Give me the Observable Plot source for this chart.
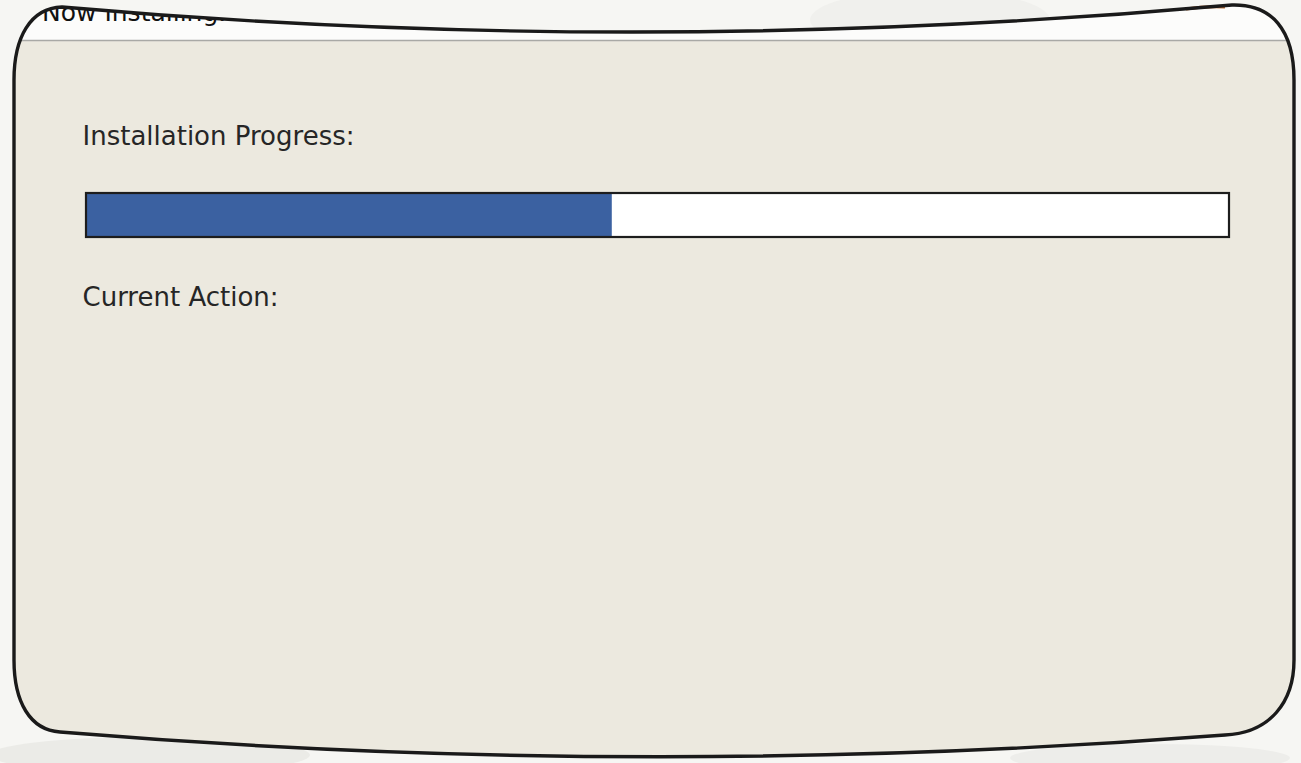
<!DOCTYPE html>
<html>
<head>
<meta charset="utf-8">
<script src="https://cdn.jsdelivr.net/npm/d3@7"></script>
<script src="https://cdn.jsdelivr.net/npm/@observablehq/plot@0.6"></script>
<style>
  html, body { margin: 0; padding: 0; background: #f6f6f3; overflow: hidden; }
  #chart svg { display: block; }
</style>
</head>
<body>
<div id="chart"></div>
<script>
// ---- data ----
const titleText = ["Now Installing..."];
const progressLabel = ["Installation Progress:"];
const actionLabel = ["Current Action:"];
const progress = [46];          // percent complete
const progressMax = [100];

const W = 1301, H = 763;
const FONT = "DejaVu Sans, Verdana, sans-serif";

// decorative dialog outline (warped rounded rectangle)
const outline =
  "M14,80 C14,38 30,8 62,7 Q640,58 1232,5 C1272,4 1294,30 1294,80 " +
  "L1294,660 C1294,702 1270,733 1225,735 Q640,780 60,732 " +
  "C30,730 14,702 14,660 Z";

function dialogFrame(index, scales, values, dims, context) {
  const g = d3.create("svg:g");
  const defs = g.append("defs");
  defs.append("clipPath").attr("id", "dlgclip").append("path").attr("d", outline);
  // faint background texture outside
  const bg = g.append("g");
  bg.append("rect").attr("width", W).attr("height", H).attr("fill", "#f6f6f3");
  bg.append("ellipse").attr("cx", 930).attr("cy", 20).attr("rx", 120).attr("ry", 30).attr("fill", "#f0f0ed");
  bg.append("ellipse").attr("cx", 150).attr("cy", 755).attr("rx", 160).attr("ry", 18).attr("fill", "#ebebe7");
  bg.append("ellipse").attr("cx", 1150).attr("cy", 758).attr("rx", 140).attr("ry", 14).attr("fill", "#ededea");
  const inner = g.append("g").attr("clip-path", "url(#dlgclip)");
  inner.append("rect").attr("width", W).attr("height", H).attr("fill", "#ece9df");
  inner.append("rect").attr("width", W).attr("height", 40).attr("fill", "#fcfcfb");
  inner.append("line").attr("x1", 0).attr("x2", W).attr("y1", 40.5).attr("y2", 40.5)
    .attr("stroke", "#a9a9a6").attr("stroke-width", 1.6);
  inner.append("text").attr("x", 42).attr("y", 21)
    .attr("text-anchor", "start")
    .attr("font-family", FONT).attr("font-size", 25).attr("fill", "#111")
    .text(titleText[0]);
  // small orange fragment near top right
  g.append("path").attr("d", "M1186,9 Q1205,6 1225,7").attr("stroke", "#b8652a")
    .attr("stroke-width", 3).attr("fill", "none");
  g.append("path").attr("d", outline).attr("fill", "none")
    .attr("stroke", "#1a1a1a").attr("stroke-width", 3.4).attr("stroke-linejoin", "round");
  return g.node();
}

const rows = progress.map((p, i) => ({value: p, max: progressMax[i]}));

const chart = Plot.plot({
  width: W,
  height: H,
  margin: 0,
  style: {background: "transparent", fontFamily: FONT},
  x: {domain: [0, progressMax[0]], range: [86, 1229], axis: null},
  y: {domain: [0, 1], range: [237, 193], axis: null},
  marks: [
    dialogFrame,
    // empty track
    Plot.rect(rows, {x1: () => 0, x2: d => d.max, y1: () => 0, y2: () => 1,
      fill: "#ffffff"}),
    // filled progress
    Plot.rect(rows, {x1: () => 0, x2: d => d.value, y1: () => 0, y2: () => 1,
      fill: "#3b61a1"}),
    Plot.rect(rows, {x1: () => 0, x2: d => d.max, y1: () => 0, y2: () => 1,
      fill: "none", stroke: "#1d1d1d", strokeWidth: 2.2}),
    Plot.text(progressLabel, {frameAnchor: "top-left", dx: 82, dy: 136,
      text: d => d, textAnchor: "start", lineAnchor: "middle",
      fontSize: 26, fill: "#262626"}),
    Plot.text(actionLabel, {frameAnchor: "top-left", dx: 82, dy: 297,
      text: d => d, textAnchor: "start", lineAnchor: "middle",
      fontSize: 26, fill: "#262626"})
  ]
});
document.getElementById("chart").append(chart);
</script>
</body>
</html>
